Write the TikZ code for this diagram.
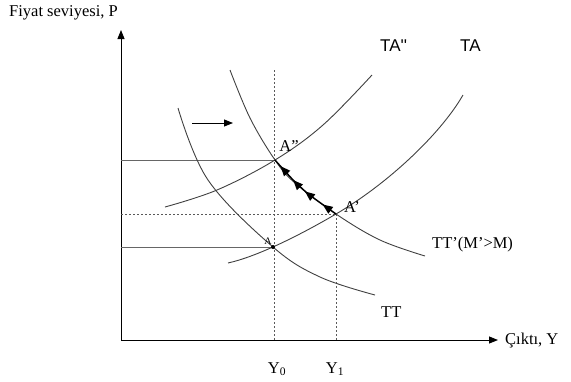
\documentclass[tikz,border=0pt]{standalone}
\usepackage{fontspec}
\setmainfont{Liberation Serif}
\newfontfamily\lsans{Liberation Sans}
\usetikzlibrary{arrows.meta,decorations.markings}
\begin{document}
\begin{tikzpicture}[x=1pt,y=-1pt,
  axis/.style={line width=0.9pt,black,-{Triangle[length=9pt,width=7pt]}},
  curve/.style={line width=0.9pt,black!75},
  guide/.style={line width=0.5pt,black!60},
  dguide/.style={line width=0.7pt,black!65,dash pattern=on 2pt off 2pt},
  lbl/.style={font=\fontsize{16.5}{19}\selectfont,inner sep=1pt},
  salbl/.style={font=\lsans\fontsize{17}{19}\selectfont,inner sep=1pt},
  adjust/.style={line width=1.4pt,black,
    postaction={decorate},
    decoration={markings,
      mark=at position 0.2 with {\arrow{Triangle[length=10pt,width=8pt]}},
      mark=at position 0.47 with {\arrow{Triangle[length=10pt,width=8pt]}},
      mark=at position 0.67 with {\arrow{Triangle[length=10pt,width=8pt]}},
      mark=at position 0.9 with {\arrow{Triangle[length=10pt,width=8pt]}}}}
]
\useasboundingbox (0,0) rectangle (571,381);
% key points
\coordinate (O) at (121,340);
\coordinate (Ptop) at (121,30);
\coordinate (Xend) at (498,340);
\coordinate (A) at (273,247);
\coordinate (A1) at (336,214);
\coordinate (A2) at (275,160);
\coordinate (V0top) at (274,70);
\coordinate (V0bot) at (274,340);
\coordinate (V1bot) at (336,340);
\coordinate (HA2) at (121,160);
\coordinate (HA1) at (121,214);
\coordinate (HA) at (121,247);
% axes
\draw[axis] (O) -- (Ptop);
\draw[axis] (O) -- (Xend);
% guide lines
\draw[guide] (HA2) -- (A2);
\draw[guide] (HA) -- (A);
\draw[dguide] (HA1) -- (A1);
\draw[dguide] (V0top) -- (V0bot);
\draw[dguide] (A1) -- (V1bot);
% curves
\draw[curve] plot[smooth,tension=0.6] coordinates {(178,108) (208,180) (A) (320,277) (375,295)};
\draw[curve] plot[smooth,tension=0.6] coordinates {(230,70) (250,118) (A2) (295,183) (A1) (380,240) (425,256)};
\draw[curve] plot[smooth,tension=0.6] coordinates {(165,207) (217,190) (A2) (323,125) (372,75)};
\draw[curve] (228,263) .. controls (255,257) and (295,238) .. (A1)
                       .. controls (386,185) and (440,135) .. (463,95);
% adjustment path
\draw[adjust] plot[smooth,tension=0.6] coordinates {(A1) (307,193) (295,182) (A2)};
% shift arrow
\coordinate (SA) at (192,123);
\coordinate (SB) at (233,123);
\draw[line width=0.9pt,-{Triangle[length=9pt,width=7pt]}] (SA) -- (SB);
% point marker at A
\fill[black] (A) circle (2pt);
% labels
\node[lbl,anchor=west] (ylab) at (8,13) {Fiyat seviyesi, P};
\node[lbl,anchor=west] (xlab) at (504,341) {Çıktı, Y};
\node[lbl] (y0) at (277,369) {Y\textsubscript{0}};
\node[lbl] (y1) at (335,369) {Y\textsubscript{1}};
\node[salbl,anchor=west] (ta2) at (379,46) {TA''};
\node[salbl,anchor=west] (ta) at (459,46) {TA};
\node[lbl,anchor=west] (ttp) at (431,245) {TT'(M'>M)};
\node[lbl,anchor=west] (tt) at (380,312) {TT};
\node[lbl] (la2) at (289,146) {A''};
\node[lbl] (la1) at (352,207) {A'};
\node[font=\fontsize{10}{11}\selectfont,inner sep=0pt] (la) at (268,241) {A};
\end{tikzpicture}
\end{document}
